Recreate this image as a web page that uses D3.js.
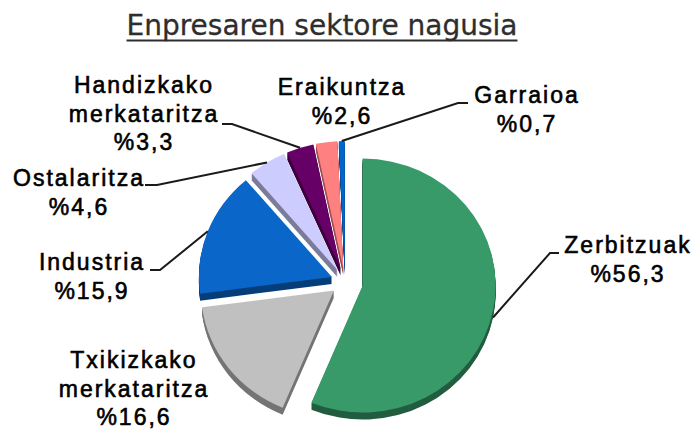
<!DOCTYPE html>
<html>
<head>
<meta charset="utf-8">
<script src="https://cdn.jsdelivr.net/npm/d3@7"></script>
<style>
  html, body { margin: 0; padding: 0; background: #fff; }
  svg { display: block; }
</style>
</head>
<body>
<svg id="chart" width="692" height="434"></svg>
<script>
const title = "Enpresaren sektore nagusia";
const sectors = ["Zerbitzuak", "Txikizkako merkataritza", "Industria", "Ostalaritza", "Handizkako merkataritza", "Eraikuntza", "Garraioa"];
const shares = [56.3, 16.6, 15.9, 4.6, 3.3, 2.6, 0.7];

// look
const colors = ["#399a69", "#c0c0c0", "#0a66c8", "#ccccff", "#660066", "#ff8080", "#0066cc"];
const explode = [18, 14, 14, 14, 14, 14, 14];
// label text anchor (center x, first baseline) and leader elbow (null = no leader)
const labelPos = [[627, 253], [133, 368], [91, 270], [78, 186], [143, 93], [341, 95], [526, 103]];
const elbows = [[550, 253, 559], null, [160, 270, 150], [157, 185, 145], [232, 124, 222], null, [458, 103, 468]];

const width = 692, height = 434;
const cx = 345, cy = 282, rx = 133, ry = 127, depth = 7;
const lineH = 28.5;

const svg = d3.select("#chart");

// title
const t = svg.append("text")
  .attr("x", 322).attr("y", 35)
  .attr("text-anchor", "middle")
  .style("font-family", "DejaVu Sans")
  .style("font-size", "28px")
  .attr("fill", "#2e2e2e")
  .attr("stroke", "#2e2e2e")
  .attr("stroke-width", 0.3)
  .text(title);
const tw = t.node().getComputedTextLength();
svg.append("line")
  .attr("x1", 322 - tw / 2).attr("x2", 322 + tw / 2)
  .attr("y1", 40.5).attr("y2", 40.5)
  .attr("stroke", "#2e2e2e").attr("stroke-width", 2);

const pie = d3.pie().sort(null).value((d) => d).startAngle(0).endAngle(2 * Math.PI);
const arcs = pie(shares);
const arc = d3.arc().innerRadius(0).outerRadius(rx);

const slices = arcs.map((a, i) => {
  const mid = (a.startAngle + a.endAngle) / 2;
  return {
    a, i, mid,
    ox: cx + explode[i] * Math.sin(mid),
    oy: cy - explode[i] * Math.cos(mid),
  };
});

// draw back slices first (top of the pie), front ones last
const order = slices.slice().sort((p, q) => -Math.cos(p.mid) - -Math.cos(q.mid));

const pieG = svg.append("g");
order.forEach((s) => {
  const g = pieG.append("g");
  const side = d3.color(colors[s.i]).darker(1.4).formatHex();
  for (let k = depth; k >= 1; k--) {
    g.append("path")
      .attr("d", arc(s.a))
      .attr("transform", `translate(${s.ox}, ${s.oy + k}) scale(1, ${ry / rx})`)
      .attr("fill", side);
  }
  g.append("path")
    .attr("d", arc(s.a))
    .attr("transform", `translate(${s.ox}, ${s.oy}) scale(1, ${ry / rx})`)
    .attr("fill", colors[s.i]);
});

// leader lines
slices.forEach((s) => {
  const e = elbows[s.i];
  if (!e) return;
  let px = s.ox + rx * Math.sin(s.mid);
  let py = s.oy - ry * Math.cos(s.mid);
  if (Math.cos(s.mid) < 0.2) py += depth;
  svg.append("polyline")
    .attr("points", `${px},${py} ${e[0]},${e[1]} ${e[2]},${e[1]}`)
    .attr("fill", "none")
    .attr("stroke", "#1a1a1a")
    .attr("stroke-width", 2);
});

// labels
slices.forEach((s) => {
  const lines = sectors[s.i].split(" ").concat(["%" + String(shares[s.i]).replace(".", ",")]);
  const txt = svg.append("text")
    .attr("text-anchor", "middle")
    .style("font-family", "Liberation Sans, Arial, sans-serif")
    .style("font-size", "23px")
    .style("letter-spacing", "2px")
    .attr("fill", "#000")
    .attr("stroke", "#000")
    .attr("stroke-width", 0.6);
  lines.forEach((l, j) => {
    txt.append("tspan")
      .attr("x", labelPos[s.i][0] + 1)
      .attr("y", labelPos[s.i][1] + j * lineH)
      .text(l);
  });
});
</script>
</body>
</html>
